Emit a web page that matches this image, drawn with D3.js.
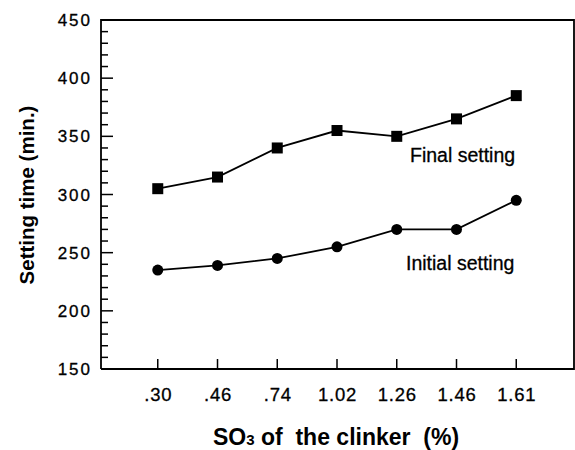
<!DOCTYPE html>
<html><head><meta charset="utf-8">
<script src="https://cdn.jsdelivr.net/npm/d3@7"></script>
<style>body{margin:0;background:#fff}svg{display:block}</style>
</head><body>
<script>
const categories = [".30", ".46", ".74", "1.02", "1.26", "1.46", "1.61"];
const finalSetting = [305, 315, 340, 355, 350, 365, 385];
const initialSetting = [235, 239, 245, 255, 270, 270, 295];
const yTicks = [150, 200, 250, 300, 350, 400, 450];

const W = 575, H = 450;
const L = 101, R = 574, T = 20, B = 369;
const svg = d3.select("body").append("svg").attr("width", W).attr("height", H);

const x = d3.scaleLinear().domain([-0.95, 7]).range([L, 576]);
const y = d3.scaleLinear().domain([150, 450]).range([B, T]);

const font = "Arial, 'Liberation Sans', sans-serif";

// frame
svg.append("path").attr("d", `M${L},${B}V${T}H${R}V${B}H${L}`)
  .attr("fill", "none").attr("stroke", "#000").attr("stroke-width", 1.8);

// y axis ticks (inward)
const yMinor = d3.range(150, 451, 10);
svg.append("g").selectAll("line").data(yMinor).join("line")
  .attr("x1", L).attr("x2", d => L + (d % 50 === 0 ? 12 : 7))
  .attr("y1", d => y(d)).attr("y2", d => y(d))
  .attr("stroke", "#000").attr("stroke-width", 1.5);
svg.append("g").selectAll("text").data(yTicks).join("text")
  .attr("x", 92).attr("y", d => y(d) + 6).attr("text-anchor", "end")
  .attr("letter-spacing", 2).attr("stroke", "#000").attr("stroke-width", 0.3)
  .attr("font-family", font).attr("font-size", 17).text(d => d);

// x ticks
svg.append("g").selectAll("line").data(categories).join("line")
  .attr("x1", (d, i) => x(i)).attr("x2", (d, i) => x(i))
  .attr("y1", B).attr("y2", B - 10)
  .attr("stroke", "#000").attr("stroke-width", 1.5);
svg.append("g").selectAll("text").data(categories).join("text")
  .attr("x", (d, i) => x(i) + 0.5).attr("y", 401).attr("text-anchor", "middle")
  .attr("letter-spacing", 0.8).attr("stroke", "#000").attr("stroke-width", 0.3)
  .attr("font-family", font).attr("font-size", 18.5).text(d => d);

// axis titles
const xt = svg.append("text").attr("x", 213).attr("y", 445)
  .style("white-space", "pre")
  .attr("font-family", font).attr("font-size", 23).attr("font-weight", "bold");
xt.append("tspan").text("SO");
xt.append("tspan").attr("font-size", 15).text("3");
xt.append("tspan").text(" of  the clinker  (%)");

svg.append("text").attr("transform", "translate(34,195) rotate(-90)")
  .attr("text-anchor", "middle").attr("font-family", font)
  .attr("font-size", 20.5).attr("font-weight", "bold").text("Setting time (min.)");

// lines
const line = d3.line().x((d, i) => x(i)).y(d => y(d));
[finalSetting, initialSetting].forEach(s => {
  svg.append("path").datum(s).attr("d", line).attr("fill", "none")
    .attr("stroke", "#000").attr("stroke-width", 1.8);
});
svg.append("g").selectAll("rect").data(finalSetting).join("rect")
  .attr("x", (d, i) => x(i) - 5.5).attr("y", d => y(d) - 5.5)
  .attr("width", 11).attr("height", 11).attr("fill", "#000");
svg.append("g").selectAll("circle").data(initialSetting).join("circle")
  .attr("cx", (d, i) => x(i)).attr("cy", d => y(d)).attr("r", 5.5).attr("fill", "#000");

// series labels
svg.append("text").attr("x", 410).attr("y", 162).attr("font-family", font)
  .attr("stroke", "#000").attr("stroke-width", 0.3)
  .attr("font-size", 19.5).text("Final setting");
svg.append("text").attr("x", 406).attr("y", 270).attr("font-family", font)
  .attr("stroke", "#000").attr("stroke-width", 0.3)
  .attr("font-size", 19.5).text("Initial setting");
</script>
</body></html>
